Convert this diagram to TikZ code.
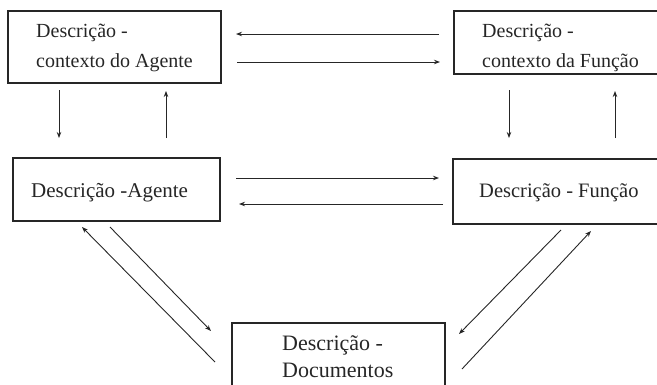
\documentclass[tikz,border=0pt]{standalone}
\usepackage{fontspec}
\setmainfont{Liberation Serif}
\usetikzlibrary{arrows.meta}
\begin{document}
\begin{tikzpicture}[x=1pt,y=-1pt,
  box/.style={draw=black!85,line width=1.6pt,inner sep=0pt},
  lbl/.style={anchor=base west,inner sep=0pt,text=black!85},
  conn/.style={draw=black!85,line width=0.9pt,-{Stealth[length=6pt,width=4.5pt]}}]
\useasboundingbox (0,0) rectangle (657,384);
\begin{scope}
\clip (0,0) rectangle (657,384);
% boxes
\node[box,minimum width=213pt,minimum height=72pt] (b1) at (114.5,47) {};
\node[box,minimum width=215pt,minimum height=63pt] (b2) at (561.5,42.5) {};
\node[box,minimum width=207pt,minimum height=63pt] (b3) at (116.5,189.5) {};
\node[box,minimum width=215pt,minimum height=65pt] (b4) at (560.5,191.5) {};
\node[box,minimum width=213pt,minimum height=70pt] (b5) at (338.5,358) {};
\end{scope}
% texts
\node[lbl,font=\fontsize{20}{24}\selectfont] (t1a) at (36,37) {Descrição -};
\node[lbl,font=\fontsize{20}{24}\selectfont] (t1b) at (36,67) {contexto do Agente};
\node[lbl,font=\fontsize{20}{24}\selectfont] (t2a) at (482,37) {Descrição -};
\node[lbl,font=\fontsize{20}{24}\selectfont] (t2b) at (482,67) {contexto da Função};
\node[lbl,font=\fontsize{21}{25}\selectfont] (t3) at (31,197) {Descrição -Agente};
\node[lbl,font=\fontsize{20.5}{25}\selectfont] (t4) at (479,197) {Descrição - Função};
\node[lbl,font=\fontsize{22}{26}\selectfont] (t5a) at (282,350) {Descrição -};
\node[lbl,font=\fontsize{22}{26}\selectfont] (t5b) at (282,377) {Documentos};
% connector end points
\coordinate (a1s) at (439,34);  \coordinate (a1e) at (236,34);
\coordinate (a2s) at (237,62);  \coordinate (a2e) at (440,62);
\coordinate (a3s) at (59,90);   \coordinate (a3e) at (59,138);
\coordinate (a4s) at (166,138); \coordinate (a4e) at (166,91);
\coordinate (a5s) at (509,90);  \coordinate (a5e) at (509,138);
\coordinate (a6s) at (615,138); \coordinate (a6e) at (615,91);
\coordinate (a7s) at (236,178); \coordinate (a7e) at (439,178);
\coordinate (a8s) at (443,204); \coordinate (a8e) at (239,204);
\coordinate (a9s) at (215,362); \coordinate (a9e) at (82,227);
\coordinate (a10s) at (110,227);\coordinate (a10e) at (211,331);
\coordinate (a11s) at (561,230);\coordinate (a11e) at (459,334);
\coordinate (a12s) at (462,369);\coordinate (a12e) at (591,231);
\foreach \i in {1,...,12} { \draw[conn] (a\i s) -- (a\i e); }
\end{tikzpicture}
\end{document}
